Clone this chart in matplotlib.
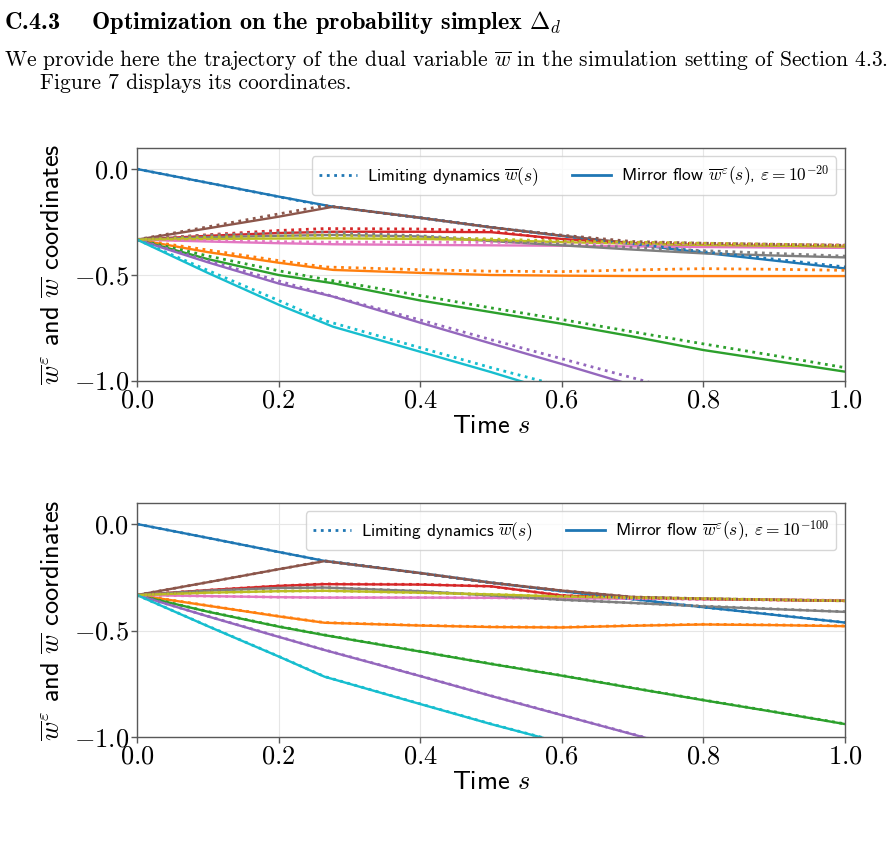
import matplotlib

matplotlib.use("Agg")

import matplotlib.pyplot as plt
from matplotlib.lines import Line2D
from matplotlib.ticker import FuncFormatter

plt.rcParams["font.family"] = ["cmss10", "DejaVu Sans"]
plt.rcParams["mathtext.fontset"] = "cm"
plt.rcParams["axes.unicode_minus"] = True

# time knots (kink of the limiting dynamics is a bit earlier than the mirror flow one)
t_limit = [0.0, 0.1, 0.2, 0.265, 0.4, 0.5, 0.6, 0.7, 0.8, 0.9, 1.0]
t_eps20 = [0.0, 0.1, 0.2, 0.277, 0.4, 0.5, 0.6, 0.7, 0.8, 0.9, 1.0]
t_eps100 = [0.0, 0.1, 0.2, 0.265, 0.4, 0.5, 0.6, 0.7, 0.8, 0.9, 1.0]

# limiting dynamics w(s), one row per coordinate (colours C0..C9)
limit_w = [
    [0.0, -0.065, -0.131, -0.173, -0.230, -0.275, -0.315, -0.352, -0.390, -0.425, -0.462],
    [-0.333, -0.382, -0.432, -0.462, -0.475, -0.482, -0.484, -0.476, -0.470, -0.473, -0.478],
    [-0.333, -0.410, -0.480, -0.520, -0.597, -0.655, -0.710, -0.768, -0.825, -0.880, -0.937],
    [-0.333, -0.310, -0.290, -0.281, -0.283, -0.292, -0.335, -0.347, -0.352, -0.356, -0.360],
    [-0.333, -0.432, -0.528, -0.590, -0.712, -0.805, -0.895, -0.985, -1.075, -1.165, -1.255],
    [-0.333, -0.273, -0.212, -0.173, -0.230, -0.275, -0.312, -0.342, -0.350, -0.355, -0.360],
    [-0.333, -0.338, -0.343, -0.345, -0.345, -0.346, -0.348, -0.350, -0.352, -0.355, -0.358],
    [-0.333, -0.312, -0.300, -0.297, -0.315, -0.335, -0.355, -0.370, -0.385, -0.398, -0.411],
    [-0.333, -0.322, -0.315, -0.313, -0.322, -0.330, -0.340, -0.345, -0.350, -0.355, -0.360],
    [-0.333, -0.478, -0.620, -0.715, -0.843, -0.937, -1.025, -1.112, -1.200, -1.288, -1.375],
]

# mirror flow, eps = 1e-20
eps20_w = [
    [0.0, -0.065, -0.130, -0.178, -0.230, -0.275, -0.315, -0.355, -0.395, -0.432, -0.469],
    [-0.333, -0.392, -0.442, -0.476, -0.490, -0.500, -0.503, -0.505, -0.505, -0.505, -0.505],
    [-0.333, -0.425, -0.500, -0.539, -0.620, -0.675, -0.730, -0.790, -0.854, -0.905, -0.956],
    [-0.333, -0.315, -0.302, -0.296, -0.296, -0.298, -0.330, -0.350, -0.360, -0.365, -0.370],
    [-0.333, -0.440, -0.540, -0.602, -0.725, -0.823, -0.920, -1.020, -1.120, -1.220, -1.320],
    [-0.333, -0.280, -0.225, -0.178, -0.230, -0.275, -0.315, -0.350, -0.360, -0.365, -0.370],
    [-0.333, -0.342, -0.350, -0.355, -0.358, -0.360, -0.362, -0.365, -0.368, -0.370, -0.372],
    [-0.333, -0.322, -0.315, -0.311, -0.318, -0.340, -0.360, -0.380, -0.398, -0.408, -0.417],
    [-0.333, -0.330, -0.328, -0.327, -0.330, -0.335, -0.345, -0.352, -0.358, -0.362, -0.366],
    [-0.333, -0.490, -0.640, -0.744, -0.862, -0.958, -1.060, -1.160, -1.260, -1.360, -1.460],
]

# mirror flow, eps = 1e-100 (almost on top of the limiting dynamics)
eps100_w = [
    [0.0, -0.065, -0.131, -0.173, -0.230, -0.275, -0.315, -0.352, -0.390, -0.426, -0.462],
    [-0.333, -0.383, -0.433, -0.463, -0.476, -0.483, -0.485, -0.477, -0.471, -0.474, -0.479],
    [-0.333, -0.411, -0.481, -0.521, -0.598, -0.656, -0.711, -0.769, -0.826, -0.881, -0.938],
    [-0.333, -0.310, -0.290, -0.282, -0.284, -0.292, -0.335, -0.347, -0.352, -0.356, -0.360],
    [-0.333, -0.433, -0.529, -0.591, -0.713, -0.806, -0.896, -0.986, -1.076, -1.166, -1.256],
    [-0.333, -0.273, -0.212, -0.174, -0.230, -0.275, -0.312, -0.342, -0.350, -0.355, -0.360],
    [-0.333, -0.338, -0.343, -0.345, -0.345, -0.346, -0.348, -0.350, -0.352, -0.355, -0.358],
    [-0.333, -0.312, -0.300, -0.298, -0.315, -0.335, -0.355, -0.370, -0.386, -0.399, -0.412],
    [-0.333, -0.322, -0.315, -0.313, -0.322, -0.330, -0.340, -0.345, -0.350, -0.355, -0.360],
    [-0.333, -0.479, -0.621, -0.716, -0.844, -0.938, -1.026, -1.113, -1.201, -1.289, -1.376],
]

x_ticks = [0.0, 0.2, 0.4, 0.6, 0.8, 1.0]
y_ticks = [-1.0, -0.5, 0.0]

header = r"C.4.3    Optimization on the probability simplex $\mathbf{\Delta}_d$"
body_1 = r"We provide here the trajectory of the dual variable $\overline{w}$ in the simulation setting of Section 4.3."
body_2 = "Figure 7 displays its coordinates."

panels = [
    (t_eps20, eps20_w, r"Mirror flow $\overline{w}^\varepsilon(s)$, $\varepsilon = 10^{-20}$"),
    (t_eps100, eps100_w, r"Mirror flow $\overline{w}^\varepsilon(s)$, $\varepsilon = 10^{-100}$"),
]


def style_axes(ax):
    ax.set_xlim(0.0, 1.0)
    ax.set_ylim(-1.0, 0.1)
    ax.set_xticks(x_ticks)
    ax.set_yticks(y_ticks)
    fmt = FuncFormatter(lambda v, p: f"${v:.1f}$")
    ax.xaxis.set_major_formatter(fmt)
    ax.yaxis.set_major_formatter(fmt)
    ax.tick_params(labelsize=19, length=4, width=1, color="0.35", pad=2)
    ax.grid(True, color="0.9", linewidth=0.8)
    ax.set_axisbelow(True)
    for sp in ax.spines.values():
        sp.set_color("0.35")
        sp.set_linewidth(1.0)
    ax.set_xlabel(r"Time $s$", fontsize=19, labelpad=2)
    ax.set_ylabel(r"$\overline{w}^\varepsilon$ and $\overline{w}$ coordinates", fontsize=19, labelpad=6)


fig = plt.figure(figsize=(8.94, 8.51), dpi=100)
axes = [
    fig.add_axes([0.1532, 0.5523, 0.792, 0.274]),
    fig.add_axes([0.1532, 0.1336, 0.792, 0.2757]),
]

for ax, (t_sol, w_sol, label) in zip(axes, panels):
    for i in range(len(w_sol)):
        ax.plot(t_sol, w_sol[i], color=f"C{i}", lw=1.7)
    for i in range(len(limit_w)):
        ax.plot(t_limit, limit_w[i], color=f"C{i}", lw=2.0, ls=":")
    style_axes(ax)
    handles = [
        Line2D([], [], color="C0", lw=2.0, ls=":"),
        Line2D([], [], color="C0", lw=2.0),
    ]
    ax.legend(handles, [r"Limiting dynamics $\overline{w}(s)$", label],
              loc="upper right", ncol=2, fontsize=12.5, framealpha=0.8,
              edgecolor="0.8", handlelength=2.2, handletextpad=0.6,
              columnspacing=1.9)

fig.text(0.005, 0.966, header, fontsize=17.5, family="cmb10", va="baseline")
fig.text(0.005, 0.923, body_1, fontsize=15.5, family="cmr10", va="baseline")
fig.text(0.045, 0.895, body_2, fontsize=15.5, family="cmr10", va="baseline")

fig.savefig("out.png", dpi=100)
